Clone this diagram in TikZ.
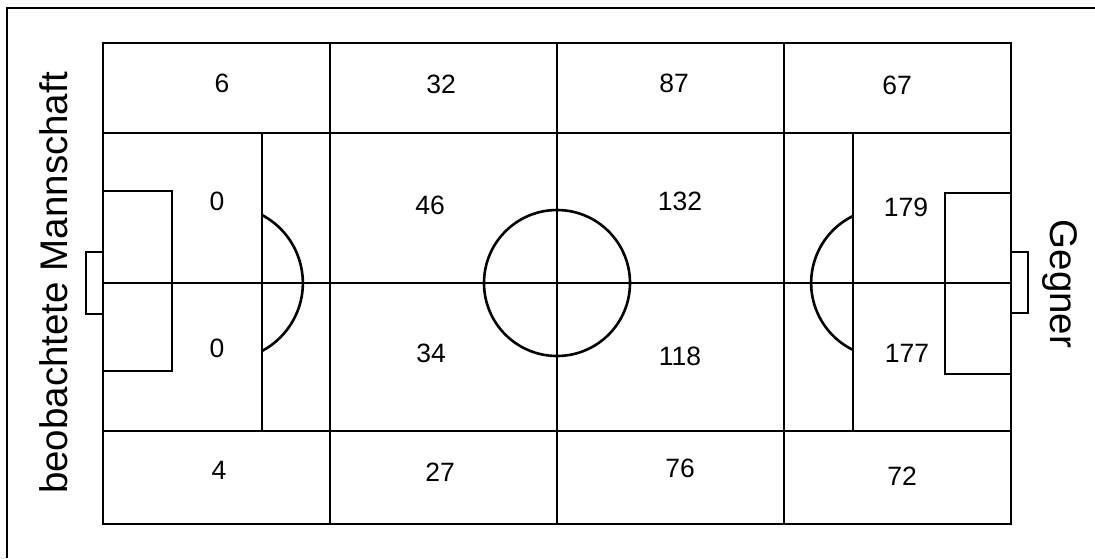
\documentclass[tikz,border=0pt]{standalone}
\usepackage{fontspec}
\setmainfont{Liberation Sans}
\usepackage{tikz}

\begin{document}
\begin{tikzpicture}[
x=1pt,
y=-1pt,
thinline/.style={line width=1.3pt},
thickline/.style={line width=2.6pt},
zone/.style={
font=\fontsize{26.5}{31}\selectfont,
inner sep=0pt
},
side/.style={
font=\fontsize{38.5}{46}\selectfont,
inner sep=0pt,
anchor=base
}
]

\useasboundingbox (0,0) rectangle (1095,558);

% frame
\draw[thickline] (7,558) -- (7,8) -- (1095,8);

% grid
\draw[thinline] (103,133) -- (1011,133);
\draw[thinline] (103,431) -- (1011,431);
\draw[thinline] (103,283) -- (1011,283);
\draw[thinline] (330,43) -- (330,524);
\draw[thinline] (784,43) -- (784,524);

% pitch
\draw[thickline] (103,43) rectangle (1011,524);
\draw[thickline] (557,43) -- (557,524);
\draw[thickline] (557,283) circle[radius=73];

% left half
\draw[thickline] (103,133) rectangle (262,431);
\draw[thickline] (103,191) rectangle (172,371);
\draw[line width=2pt] (103,252) -- (86,252) -- (86,314) -- (103,314);
\draw[thickline] (262,215) arc[start angle=-62,end angle=62,radius=77];

% right half
\draw[thickline] (853,133) rectangle (1011,431);
\draw[thickline] (945,193) rectangle (1011,374);
\draw[line width=2pt] (1011,252) -- (1028,252) -- (1028,313) -- (1011,313);
\draw[thickline] (853,216) arc[start angle=244,end angle=116,radius=74.5];

% zones
\node[zone] (a1) at (222,83) {6};
\node[zone] (a2) at (441,84) {32};
\node[zone] (a3) at (674,83) {87};
\node[zone] (a4) at (897,85) {67};

\node[zone] (b1) at (217,201) {0};
\node[zone] (b2) at (430,205) {46};
\node[zone] (b3) at (680,201) {132};
\node[zone] (b4) at (906,207) {179};

\node[zone] (c1) at (217,348) {0};
\node[zone] (c2) at (431,353) {34};
\node[zone] (c3) at (680,356) {118};
\node[zone] (c4) at (907,353) {177};

\node[zone] (d1) at (219,470) {4};
\node[zone] (d2) at (440,472) {27};
\node[zone] (d3) at (680,468) {76};
\node[zone] (d4) at (902,476) {72};

% teams
\node[side, rotate=90] (own) at (67,283) {beobachtete Mannschaft};
\node[side, rotate=-90] (opp) at (1050,284) {Gegner};

\end{tikzpicture}
\end{document}
